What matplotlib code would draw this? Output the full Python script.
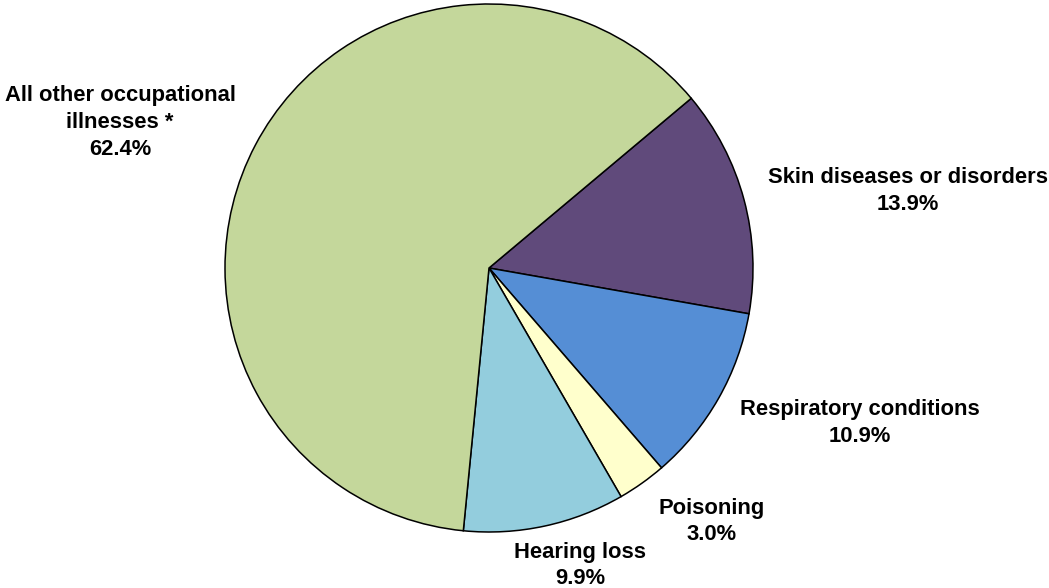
import matplotlib
matplotlib.use("Agg")
import matplotlib.pyplot as plt

categories = ["Skin diseases or disorders", "Respiratory conditions", "Poisoning",
              "Hearing loss", "All other occupational\nillnesses *"]
values = [13.9, 10.9, 3.0, 9.9, 62.4]
colors = ["#604A7B", "#558ED5", "#FFFFCC", "#93CDDD", "#C4D79B"]

W, H = 1049, 588
fig = plt.figure(figsize=(W / 100, H / 100), dpi=100)
cx, cy, r = 489, 268, 264
ax = fig.add_axes([(cx - r) / W, (H - cy - r) / H, 2 * r / W, 2 * r / H])
ax.pie(values, colors=colors, startangle=40, counterclock=False, radius=1,
       wedgeprops=dict(edgecolor="black", linewidth=1.1))
ax.set_xlim(-1, 1)
ax.set_ylim(-1, 1)
ax.set_aspect("equal")
ax.axis("off")

# label centres in pixel positions of the reference
label_px = [(908, 191), (860, 423), (712, 521.5), (580, 565.5), (120, 122.5)]
for cat, v, (px, py) in zip(categories, values, label_px):
    ax.text((px - cx) / r, (cy - py) / r, f"{cat}\n{v:.1f}%", ha="center", va="center",
            fontsize=15.8, fontweight="bold", family="Liberation Sans",
            linespacing=1.37, clip_on=False)

fig.savefig("out.png", dpi=100)
